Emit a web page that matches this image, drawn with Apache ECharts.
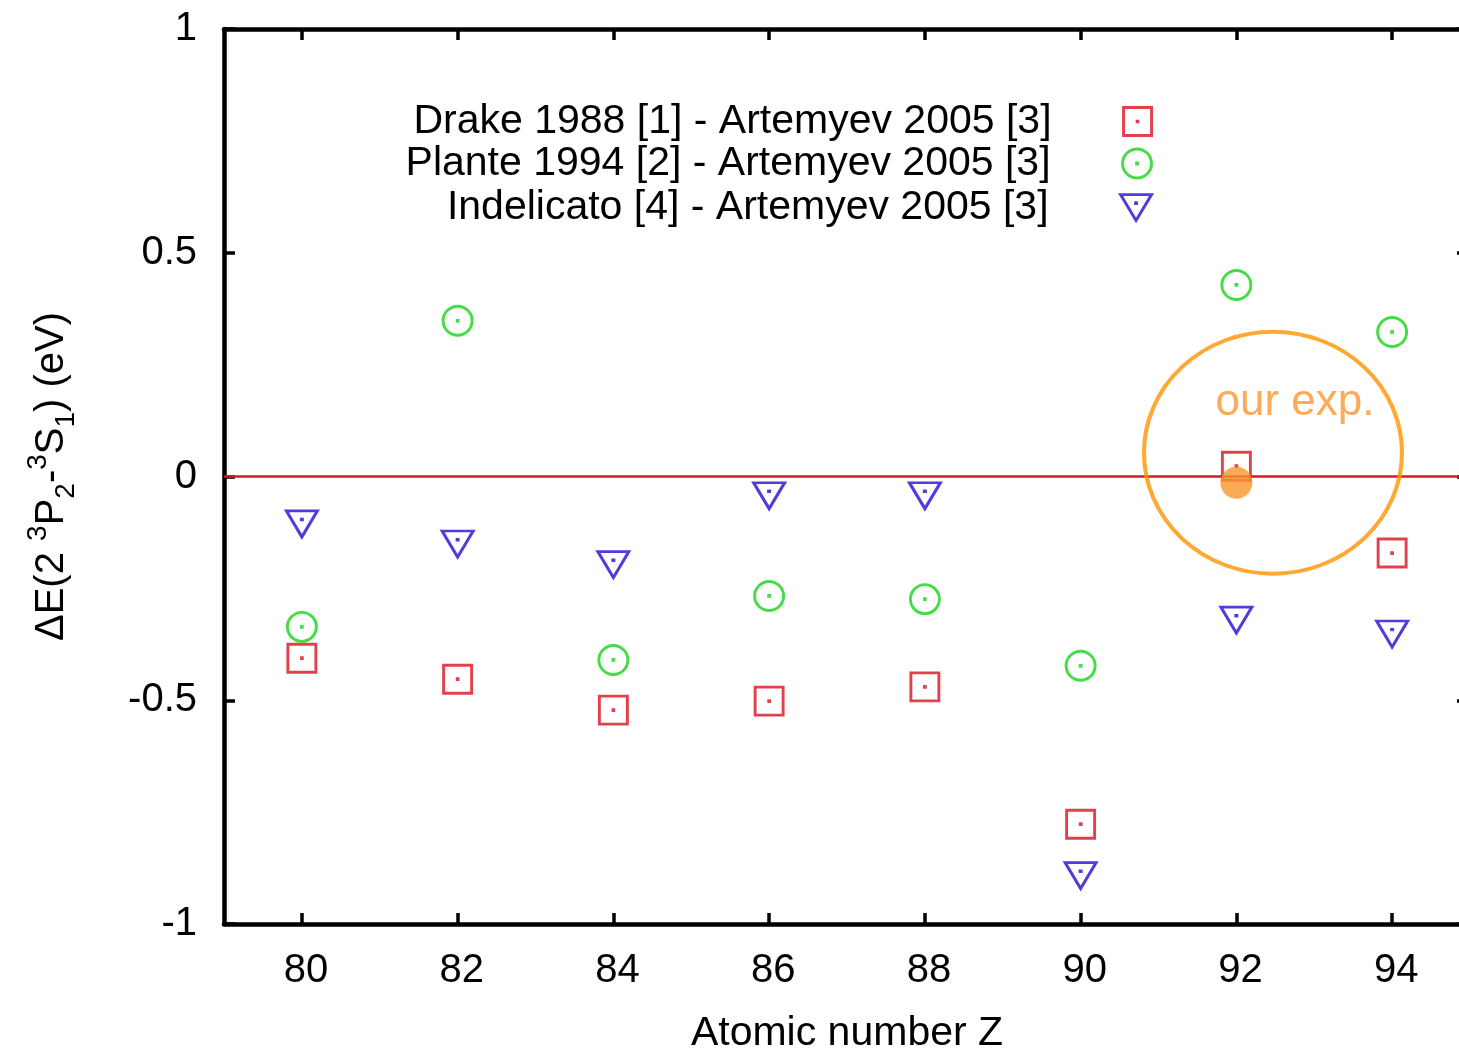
<!DOCTYPE html>
<html>
<head>
<meta charset="utf-8">
<script src="https://cdn.jsdelivr.net/npm/echarts@6/dist/echarts.min.js"></script>
<style>
  html, body { margin: 0; padding: 0; background: #ffffff; }
  #chart { width: 1459px; height: 1050px; }
</style>
</head>
<body>
<div id="chart"></div>
<script>
// Atomic numbers Z and energy differences (eV) between calculations
const atomicNumbers = [80, 82, 84, 86, 88, 90, 92, 94];
const drakeDiff = [-0.406, -0.453, -0.522, -0.502, -0.470, -0.777, 0.023, -0.171];
const planteDiff = [-0.336, 0.348, -0.410, -0.267, -0.274, -0.423, 0.428, 0.323];
const indelicatoDiff = [-0.097, -0.142, -0.188, -0.034, -0.034, -0.883, -0.312, -0.343];
// Experimental point and the ring that highlights it
const ourExp = [[92, -0.014]];
const expRing = [[92.47, 0.053]];
// Tick values
const xTicks = [80, 82, 84, 86, 88, 90, 92, 94];
const yTicks = [-1, -0.5, 0, 0.5, 1];

const seriesNames = [
  'Drake 1988 [1] - Artemyev 2005 [3]',
  'Plante 1994 [2] - Artemyev 2005 [3]',
  'Indelicato [4] - Artemyev 2005 [3]'
];

const FONT = '"Liberation Sans", Arial, Helvetica, sans-serif';
const RED = '#dc1020';
const GREEN = '#16d416';
const BLUE = '#2a08d6';
const ORANGE = '#ff9400';

// open markers with a small dot at the data point
const SQUARE = 'path://M0,0L10,0L10,10L0,10Z M4.85,4.85L5.15,4.85L5.15,5.15L4.85,5.15Z';
const CIRCLE = 'path://M0,5A5,5,0,1,1,10,5A5,5,0,1,1,0,5Z M4.85,4.85L5.15,4.85L5.15,5.15L4.85,5.15Z';
const TRIANGLE = 'path://M0,0L30,0L15,25Z M14.6,7.9L15.4,7.9L15.4,8.7L14.6,8.7Z';
const RING = 'path://M0,50A50,50,0,1,1,100,50A50,50,0,1,1,0,50Z';

const pair = (vals) => atomicNumbers.map((z, i) => [z, vals[i]]);

function legendFor(name, icon, color, w, h, top) {
  return {
    data: [name],
    orient: 'vertical',
    align: 'right',
    right: 301,
    top: top,
    icon: icon,
    itemWidth: w,
    itemHeight: h,
    selectedMode: false,
    itemStyle: { color: 'rgba(0,0,0,0)', borderColor: color, borderWidth: 2.9 },
    textStyle: {
      fontFamily: FONT, fontSize: 41, color: '#000', lineHeight: 40,
      padding: [0, 67, 0, 0]
    }
  };
}

const axisLine = { onZero: false, lineStyle: { color: '#000', width: 4.5 } };
const tickStyle = { width: 3.5, color: '#000' };

const option = {
  backgroundColor: '#ffffff',
  animation: false,
  grid: {
    left: 224, top: 29, width: 1246, height: 895,
    containLabel: false, outerBoundsMode: 'none'
  },
  legend: [
    legendFor(seriesNames[0], SQUARE, RED, 28, 28, 96),
    legendFor(seriesNames[1], CIRCLE, GREEN, 29, 29, 138),
    legendFor(seriesNames[2], TRIANGLE, BLUE, 31, 26, 182)
  ],
  xAxis: [
    {
      type: 'value', position: 'bottom', min: 79, max: 95, interval: 1,
      axisLine: axisLine,
      axisTick: { inside: true, length: 11, lineStyle: tickStyle, customValues: xTicks },
      axisLabel: {
        customValues: xTicks, fontFamily: FONT, fontSize: 40, color: '#000', margin: 27,
        padding: [0, 0, 0, 8]
      },
      splitLine: { show: false },
      name: 'Atomic number Z',
      nameLocation: 'middle',
      nameGap: 89,
      nameTextStyle: { fontFamily: FONT, fontSize: 41, color: '#000' }
    },
    {
      type: 'value', position: 'top', min: 79, max: 95, interval: 1,
      axisLine: axisLine,
      axisTick: { inside: true, length: 11, lineStyle: tickStyle, customValues: xTicks },
      axisLabel: { show: false },
      splitLine: { show: false }
    }
  ],
  yAxis: [
    {
      type: 'value', position: 'left', min: -1, max: 1, interval: 0.5,
      axisLine: axisLine,
      axisTick: { inside: true, length: 11, lineStyle: tickStyle, customValues: yTicks },
      axisLabel: {
        customValues: yTicks, fontFamily: FONT, fontSize: 40, color: '#000', margin: 27,
        formatter: (v) => String(v)
      },
      splitLine: { show: false },
      name: '{n|ΔE(2 }{sup|3}{n|P}{sub|2}{n|-}{sup|3}{n|S}{sub|1}{n|) (eV)}',
      nameLocation: 'middle',
      nameGap: 144,
      nameTextStyle: {
        fontFamily: FONT, fontSize: 40, color: '#000',
        rich: {
          n: { fontFamily: FONT, fontSize: 40, color: '#000', lineHeight: 56, verticalAlign: 'middle' },
          sup: { fontFamily: FONT, fontSize: 28, color: '#000', lineHeight: 56, verticalAlign: 'top' },
          sub: { fontFamily: FONT, fontSize: 28, color: '#000', lineHeight: 56, verticalAlign: 'bottom' }
        }
      }
    },
    {
      type: 'value', position: 'right', min: -1, max: 1, interval: 0.5,
      axisLine: axisLine,
      axisTick: { inside: true, length: 13, lineStyle: tickStyle, customValues: yTicks },
      axisLabel: { show: false },
      splitLine: { show: false }
    }
  ],
  series: [
    {
      name: seriesNames[0],
      type: 'scatter',
      data: pair(drakeDiff),
      symbol: SQUARE,
      symbolSize: 28,
      itemStyle: { color: 'rgba(0,0,0,0)', borderColor: RED, borderWidth: 2.9 },
      markLine: {
        silent: true,
        symbol: 'none',
        label: { show: false },
        lineStyle: { color: '#d41a28', width: 2.5, type: 'solid' },
        data: [{ yAxis: 0 }],
        z: 1
      },
      z: 3
    },
    {
      name: seriesNames[1],
      type: 'scatter',
      data: pair(planteDiff),
      symbol: CIRCLE,
      symbolSize: 29,
      itemStyle: { color: 'rgba(0,0,0,0)', borderColor: GREEN, borderWidth: 2.9 },
      z: 3
    },
    {
      name: seriesNames[2],
      type: 'scatter',
      data: pair(indelicatoDiff),
      symbol: TRIANGLE,
      symbolSize: [31, 26],
      symbolOffset: [0, 4],
      itemStyle: { color: 'rgba(0,0,0,0)', borderColor: BLUE, borderWidth: 2.9 },
      z: 3
    },
    {
      name: 'our exp.',
      type: 'scatter',
      data: ourExp,
      symbol: 'circle',
      symbolSize: 32,
      itemStyle: { color: '#fa962c' },
      z: 5
    },
    {
      name: 'ring',
      type: 'scatter',
      data: expRing,
      symbol: RING,
      symbolSize: [258, 242],
      itemStyle: { color: 'rgba(0,0,0,0)', borderColor: ORANGE, borderWidth: 4 },
      label: {
        show: true,
        formatter: 'our exp.',
        position: 'inside',
        offset: [22, -50],
        fontFamily: FONT,
        fontSize: 44,
        color: '#fc9630'
      },
      silent: true,
      z: 4
    }
  ]
};

const chart = echarts.init(document.getElementById('chart'), null, { renderer: 'canvas' });
chart.setOption(option);
</script>
</body>
</html>
